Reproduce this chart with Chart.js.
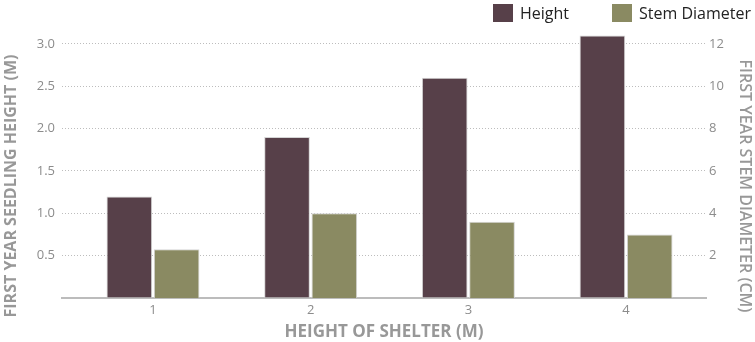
<!DOCTYPE html>
<html>
<head>
<meta charset="utf-8">
<script src="https://cdn.jsdelivr.net/npm/chart.js@4"></script>
<style>
    body { margin: 0; background: #fff; }
    #wrap { position: relative; width: 755px; height: 342px; }
    #legend { position: absolute; top: 2px; left: 493px; font: 16px "Open Sans", sans-serif; color: #222; white-space: nowrap; }
    #legend span.box { display: inline-block; width: 20px; height: 18px; vertical-align: -3px; margin-right: 7px; }
    #legend span.item { margin-right: 43px; }
</style>
</head>
<body>
<div id="wrap">
    <canvas id="shelterChart" width="755" height="342"></canvas>
    <div id="legend"></div>
</div>
<script>
const shelterHeights = [1, 2, 3, 4];
const seedlingHeight = [1.2, 1.9, 2.6, 3.1];
const stemDiameter = [2.3, 4.0, 3.6, 3.0];
const heightTicks = [0.5, 1.0, 1.5, 2.0, 2.5, 3.0];
const diameterTicks = [2, 4, 6, 8, 10, 12];

const heightColor = '#574049';
const stemColor = '#8a8a62';
const greyText = '#8c8c8c';
const titleGrey = '#989898';

// side titles sit a bit lower than the plot centre, so draw them by hand
const sideTitles = {
    id: 'sideTitles',
    afterDraw(chart) {
        const ctx = chart.ctx;
        ctx.save();
        ctx.fillStyle = titleGrey;
        ctx.textAlign = 'center';
        ctx.textBaseline = 'middle';

        ctx.font = 'bold 16px "Open Sans", sans-serif';
        ctx.translate(11, 186);
        ctx.rotate(-Math.PI / 2);
        ctx.fillText('FIRST YEAR SEEDLING HEIGHT (M)', 0, 0);
        ctx.restore();

        ctx.save();
        ctx.fillStyle = titleGrey;
        ctx.textAlign = 'center';
        ctx.textBaseline = 'middle';
        ctx.font = '600 16px "Open Sans", sans-serif';
        ctx.translate(745, 186);
        ctx.rotate(Math.PI / 2);
        ctx.fillText('FIRST YEAR STEM DIAMETER (CM)', 0, 0);
        ctx.restore();
    }
};

function toPoints(values) {
    return shelterHeights.map((x, i) => ({ x, y: values[i] }));
}

window.onload = () => {
    const ctx = document.getElementById('shelterChart').getContext('2d');
    const chart = new Chart(ctx, {
        type: 'bar',
        data: {
            datasets: [
                {
                    label: 'Height',
                    data: toPoints(seedlingHeight),
                    backgroundColor: heightColor,
                    borderColor: '#d4d4d4',
                    borderWidth: 1,
                    yAxisID: 'y'
                },
                {
                    label: 'Stem Diameter',
                    data: toPoints(stemDiameter),
                    backgroundColor: stemColor,
                    borderColor: '#d4d4d4',
                    borderWidth: 1,
                    yAxisID: 'y1'
                }
            ]
        },
        options: {
            responsive: false,
            animation: false,
            barPercentage: 0.965,
            categoryPercentage: 0.6,
            layout: { padding: { top: 27, left: 0, right: 0, bottom: 0 } },
            plugins: {
                legend: { display: false },
                tooltip: { enabled: false }
            },
            scales: {
                x: {
                    type: 'linear',
                    offset: false,
                    min: 0.423,
                    max: 4.507,
                    ticks: {
                        stepSize: 1,
                        includeBounds: false,
                        color: greyText,
                        font: { family: 'Open Sans', size: 13 },
                        padding: 4
                    },
                    grid: { display: true, drawOnChartArea: false, drawTicks: false, color: 'transparent' },
                    border: { display: true, color: '#bcbcbc', width: 2 },
                    title: {
                        display: true,
                        text: 'HEIGHT OF SHELTER (M)',
                        color: titleGrey,
                        font: { family: 'Open Sans', size: 17, weight: 'bold' },
                        padding: { top: 0, bottom: 0 }
                    }
                },
                y: {
                    position: 'left',
                    min: 0,
                    max: 3.2,
                    afterBuildTicks: (scale) => {
                        scale.ticks = [0].concat(heightTicks).map(v => ({ value: v }));
                    },
                    afterFit: (scale) => { scale.width = 62; },
                    ticks: {
                        color: greyText,
                        font: { family: 'Open Sans', size: 13 },
                        padding: 7,
                        callback: (v) => v === 0 ? '' : v.toFixed(1)
                    },
                    grid: {
                        drawTicks: false,
                        color: (c) => c.tick && c.tick.value === 0 ? 'transparent' : '#bdbdbd'
                    },
                    border: { display: false, dash: [1, 2] }
                },
                y1: {
                    position: 'right',
                    min: 0,
                    max: 12.8,
                    afterBuildTicks: (scale) => {
                        scale.ticks = diameterTicks.map(v => ({ value: v }));
                    },
                    afterFit: (scale) => { scale.width = 49; },
                    ticks: {
                        color: greyText,
                        font: { family: 'Open Sans', size: 13 },
                        padding: 3
                    },
                    grid: { drawOnChartArea: false, drawTicks: false },
                    border: { display: false }
                }
            }
        },
        plugins: [sideTitles]
    });

    // legend built from the datasets
    const legend = document.getElementById('legend');
    chart.data.datasets.forEach((ds, i) => {
        const item = document.createElement('span');
        item.className = 'item';
        if (i === chart.data.datasets.length - 1) item.style.marginRight = '0';
        item.innerHTML = `<span class="box" style="background:${ds.backgroundColor}"></span>${ds.label}`;
        legend.appendChild(item);
    });
};
</script>
</body>
</html>
